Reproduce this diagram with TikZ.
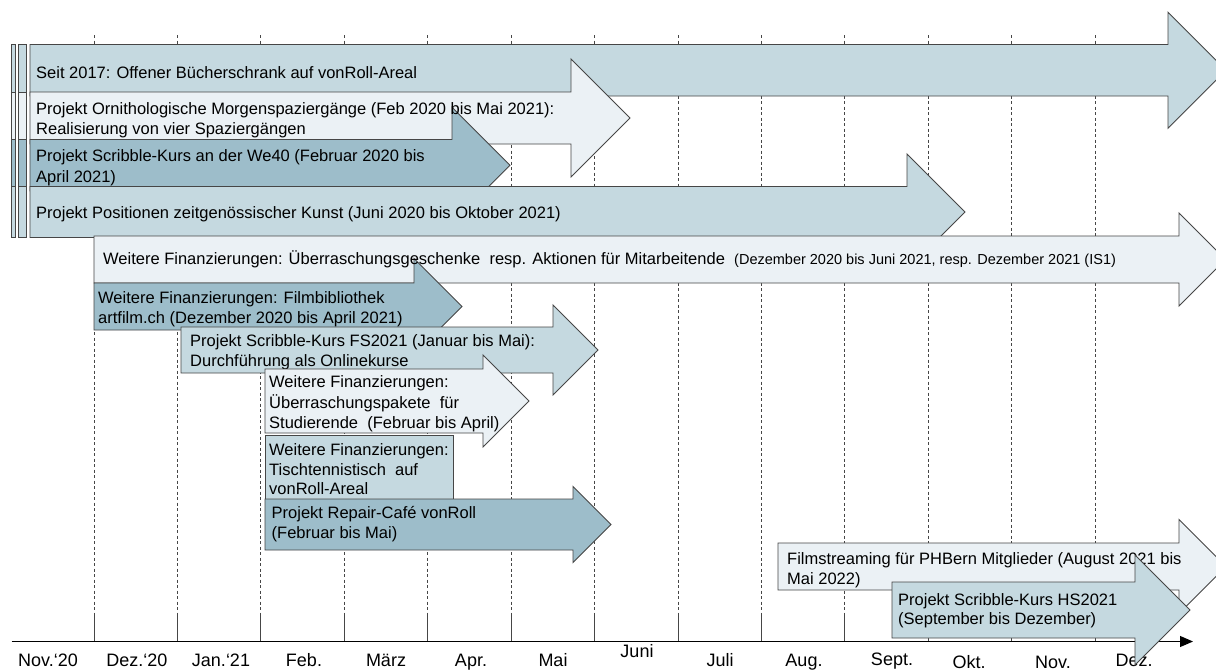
\documentclass[tikz,border=0pt]{standalone}
\usepackage{fontspec}
\setmainfont{Liberation Sans}
\usetikzlibrary{arrows.meta}
\definecolor{lb}{RGB}{197,217,224}
\definecolor{db}{RGB}{157,189,202}
\definecolor{pl}{RGB}{235,241,245}
\definecolor{ol}{RGB}{70,70,70}
% #1 style, #2 x0, #3 ytop, #4 ybot, #5 x of head, #6 half height of head
\newcommand\garrow[6]{%
  \filldraw[#1] (#2,#3) -- (#5,#3) -- (#5,{(#3+#4)/2-#6}) -- ({#5+#6},{(#3+#4)/2})
    -- (#5,{(#3+#4)/2+#6}) -- (#5,#4) -- (#2,#4) -- cycle;}
\tikzset{
  shp/.style={draw=ol, line width=0.9pt, line join=miter},
  lbar/.style={shp, fill=lb},
  dbar/.style={shp, fill=db},
  pbar/.style={shp, fill=pl},
  txt/.style={anchor=base west, inner sep=0pt, font=\fontsize{16.5}{20}\selectfont},
  lab/.style={anchor=base, inner sep=0pt, font=\fontsize{18}{21}\selectfont},
  gridline/.style={draw=ol, line width=0.8pt, dash pattern=on 3pt off 2.5pt},
  tickline/.style={draw=ol, line width=0.8pt},
}
\begin{document}
\begin{tikzpicture}[x=1pt,y=-1pt]
\useasboundingbox (0,0) rectangle (1216,670);
\fill[white] (0,0) rectangle (1216,670);
% grid lines and ticks
\foreach \k in {0,...,12}{
  \draw[gridline] ({94+83.42*\k},35) -- ({94+83.42*\k},613);
  \draw[tickline] ({94+83.42*\k},613) -- ({94+83.42*\k},641);
}
% small left bars
\foreach \xa/\xb in {11.7/15.7, 18.3/26.7}{
  \filldraw[lbar] (\xa,44.5) rectangle (\xb,92);
  \filldraw[pbar] (\xa,92) rectangle (\xb,139.5);
  \filldraw[dbar] (\xa,139.5) rectangle (\xb,186.5);
  \filldraw[lbar] (\xa,186.5) rectangle (\xb,237.5);
}
% arrow 1
\garrow{lbar}{30}{44.5}{96}{1168}{58}
\node[txt] (t1) at (36,78) {Seit 2017: Offener Bücherschrank auf vonRoll-Areal};
% Ornithologische + We40
\garrow{pbar}{30}{92}{144}{571}{59}
\garrow{dbar}{30}{139.5}{191}{452}{58}
\node[txt] (t2a) at (36,114) {Projekt Ornithologische Morgenspaziergänge (Feb 2020 bis Mai 2021):};
\node[txt] (t2b) at (36,134) {Realisierung von vier Spaziergängen};
\node[txt] (t3a) at (36,161.5) {Projekt Scribble-Kurs an der We40 (Februar 2020 bis};
\node[txt] (t3b) at (36,182.5) {April 2021)};
% Positionen
\garrow{lbar}{30}{186.5}{237.5}{907}{58}
\node[txt] (t4) at (36,218.5) {Projekt Positionen zeitgenössischer Kunst (Juni 2020 bis Oktober 2021)};
% Ueberraschungsgeschenke + Filmbibliothek
\garrow{pbar}{94}{236}{283}{1179}{46.5}
\garrow{dbar}{94}{283}{330}{414}{48}
\node[txt] (t5) at (103,264.5) {Weitere Finanzierungen: Überraschungsgeschenke\ \ resp. Aktionen für Mitarbeitende\ \ {\fontsize{14.5}{18}\selectfont(Dezember 2020 bis Juni 2021, resp. Dezember 2021 (IS1)}};
\node[txt] (t6a) at (98,303) {Weitere Finanzierungen: Filmbibliothek};
\node[txt] (t6b) at (98,323) {artfilm.ch (Dezember 2020 bis April 2021)};
% Scribble FS2021
\garrow{lbar}{181}{327}{373}{553}{45}
\node[txt] (t7a) at (190,346.5) {Projekt Scribble-Kurs FS2021 (Januar bis Mai):};
\node[txt] (t7b) at (190,366.5) {Durchführung als Onlinekurse};
% Ueberraschungspakete
\garrow{pbar}{265}{369}{433}{483}{46}
\node[txt] (t8a) at (269,387.5) {Weitere Finanzierungen:};
\node[txt] (t8b) at (269,408) {Überraschungspakete\ \ für};
\node[txt] (t8c) at (269,428.5) {Studierende\ \ (Februar bis April)};
% Tischtennis
\filldraw[lbar] (265,435) rectangle (453,505);
\node[txt] (t9a) at (269,455.5) {Weitere Finanzierungen:};
\node[txt] (t9b) at (269,475.5) {Tischtennistisch\ \ auf};
\node[txt] (t9c) at (269,494.5) {vonRoll-Areal};
% Repair-Cafe
\garrow{dbar}{265}{499}{550}{573}{38}
\node[txt] (t10a) at (271.5,518) {Projekt Repair-Café vonRoll};
\node[txt] (t10b) at (271.5,538) {(Februar bis Mai)};
% Filmstreaming
\garrow{pbar}{778}{543}{590}{1179}{47}
\node[txt] (t11a) at (787,564.5) {Filmstreaming für PHBern Mitglieder (August 2021 bis};
\node[txt] (t11b) at (787,584.5) {Mai 2022)};
% axis
\coordinate (axL) at (11.7,641.5);
\coordinate (axR) at (1193,641.5);
\draw[line width=1pt, -{Triangle[length=13pt,width=11pt]}] (axL) -- (axR);
% month labels
\node[lab] (m0) at (48,666) {Nov.‘20};
\node[lab] (m1) at (137,666) {Dez.‘20};
\node[lab] (m2) at (221,666) {Jan.‘21};
\node[lab] (m3) at (304,666) {Feb.};
\node[lab] (m4) at (386,666) {März};
\node[lab] (m5) at (471,666) {Apr.};
\node[lab] (m6) at (553,666) {Mai};
\node[lab] (m7) at (637,657) {Juni};
\node[lab] (m8) at (720,666) {Juli};
\node[lab] (m9) at (804,666) {Aug.};
\node[lab] (m10) at (892,665) {Sept.};
\node[lab] (m11) at (969,668) {Okt.};
\node[lab] (m12) at (1053,668) {Nov.};
\node[lab] (m13) at (1134,666) {Dez.};
% Scribble HS2021
\garrow{lbar}{892}{582}{638}{1135}{55}
\node[txt] (t12a) at (898,605) {Projekt Scribble-Kurs HS2021};
\node[txt] (t12b) at (898,624) {(September bis Dezember)};
\end{tikzpicture}
\end{document}
